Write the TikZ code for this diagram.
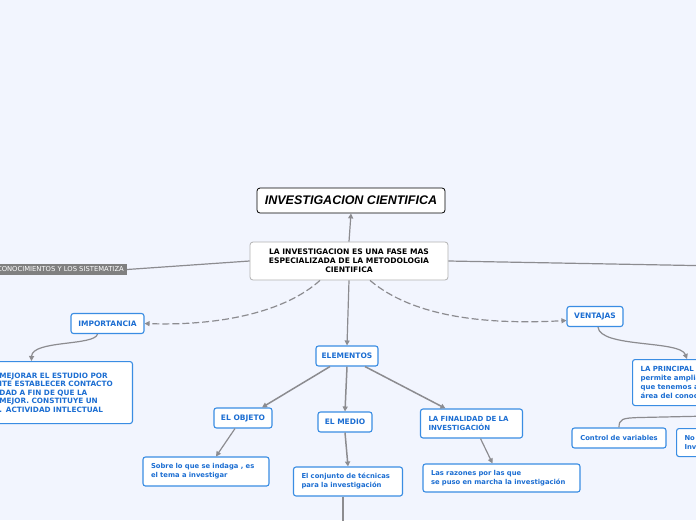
\documentclass[tikz,border=0pt]{standalone}
\usepackage{fontspec}
\newfontfamily\mapfont{DejaVu Sans}
\newfontfamily\headfont{Liberation Sans}
\usetikzlibrary{arrows.meta, positioning}
\definecolor{pagebg}{HTML}{F2F5FE}
\definecolor{subline}{HTML}{3A8DE3}
\definecolor{subtext}{HTML}{1C6ED2}
\definecolor{linkgray}{HTML}{8C8C90}
\definecolor{knowgray}{HTML}{808080}

\begin{document}
\hyphenpenalty=10000
\begin{tikzpicture}[
  x=1pt, y=-1pt,
  topic/.style={draw=black, rounded corners=3pt, fill=white, line width=0.8pt,
                font=\headfont\bfseries\itshape\fontsize{12.5}{14}\selectfont,
                minimum width=188pt, minimum height=25pt, inner sep=0pt},
  central/.style={draw=gray!60, rounded corners=3pt, fill=white, line width=0.8pt,
                  font=\mapfont\bfseries\fontsize{7.6}{9}\selectfont, align=center,
                  minimum width=198pt, minimum height=38pt, inner sep=0pt},
  know/.style={fill=knowgray, text=white, font=\mapfont\fontsize{6.8}{7}\selectfont,
               inner xsep=3pt, inner ysep=0pt, minimum height=11pt},
  sub/.style={draw=subline, rounded corners=2.5pt, fill=white, line width=1.1pt,
              text=subtext, font=\mapfont\bfseries\fontsize{7.5}{9}\selectfont,
              minimum height=20pt, inner sep=0pt},
  leaf/.style={sub, align=left, inner xsep=8pt, minimum height=29pt},
  small/.style={font=\mapfont\bfseries\fontsize{6.8}{9}\selectfont},
  plain/.style={draw=linkgray, line width=1.2pt},
  link/.style={plain, -{Triangle[length=5pt,width=5pt]}},
  dlink/.style={link, dash pattern=on 7pt off 3pt},
  thick link/.style={link, line width=1.5pt}
]
\useasboundingbox (0,0) rectangle (696,520);
\clip (0,0) rectangle (696,520);
\fill[pagebg] (0,0) rectangle (696,520);

% centre and title
\node[topic] (title) at (351,200.5) {INVESTIGACION CIENTIFICA};
\node[central] (central) at (349,261) {LA INVESTIGACION ES UNA FASE MAS\\ESPECIALIZADA DE LA METODOLOGIA\\CIENTIFICA};
\node[know, anchor=east] (know) at (127,269.5) {CONOCIMIENTOS Y LOS SISTEMATIZA};
\coordinate (offr) at (720,266);

% main branches
\node[sub, minimum width=73pt] (imp) at (107.5,323.5) {IMPORTANCIA};
\node[sub, minimum width=56pt] (vent) at (595,316.5) {VENTAJAS};
\node[sub, minimum width=62pt] (elem) at (347,356) {ELEMENTOS};

\node[leaf, anchor=north east, text width=125pt, minimum height=62pt,
      font=\mapfont\bfseries\fontsize{7.3}{8.5}\selectfont] (mejorar) at (133,361)
  {MEJORAR EL ESTUDIO POR\\ITE ESTABLECER CONTACTO\\DAD A FIN DE QUE LA\\MEJOR. CONSTITUYE UN\\. ACTIVIDAD INTLECTUAL};

% elementos
\node[sub, minimum width=58pt] (objeto) at (243,418) {EL OBJETO};
\node[sub, minimum width=54pt] (medio) at (345,422) {EL MEDIO};
\node[leaf, text width=86pt, font=\mapfont\bfseries\fontsize{7}{9}\selectfont] (final) at (471.5,423.5) {LA FINALIDAD DE LA\\INVESTIGACIÓN};
\node[leaf, small, text width=110pt] (sobre) at (206,471.5) {Sobre lo que se indaga , es\\el tema a investigar};
\node[leaf, small, text width=93pt] (conj) at (348,481.5) {El conjunto de técnicas\\para la investigación};
\node[leaf, small, text width=141pt, minimum height=28pt] (razon) at (501.5,478) {Las razones por las que\\se puso en marcha la investigación};
\coordinate (offb) at (343,530);

% ventajas
\node[leaf, anchor=north west, text width=80pt, minimum height=46pt,
      font=\mapfont\bfseries\fontsize{7}{9}\selectfont] (princ) at (632,359)
  {LA PRINCIPAL\\permite amplia\\que tenemos a\\área del conoc};
\node[sub, small, minimum width=94pt] (ctrl) at (619,438) {Control de variables};
\node[leaf, small, anchor=north west, text width=60pt, minimum height=28pt] (noinv) at (676,428) {No\\Inv};
\coordinate (offc) at (710,416);

\draw[link] (central.north) -- (title.south);
\draw[plain] (central.west) -- (know.east);
\draw[plain] (central.east) -- (offr);
\draw[link] (central.south) -- (elem.north);
\draw[dlink] ([xshift=-29pt]central.south) .. controls (285,312) and (220,326) .. (imp.east);
\draw[dlink] ([xshift=21pt]central.south) .. controls (405,310) and (465,326) .. ([yshift=-4pt]vent.west);
\draw[link] ([xshift=-10pt]imp.south) .. controls (95,346) and (32,340) .. ([xshift=-30.5pt]mejorar.north);
\draw[link] ([xshift=3pt]vent.south) .. controls (600,348) and (680,340) .. ([xshift=55pt]princ.north west);
\draw[plain] (ctrl.north) .. controls (619,419) and (622,418) .. (640,417.5) -- (offc);

\draw[thick link] ([xshift=-17pt]elem.south) -- ([xshift=19pt]objeto.north);
\draw[thick link] (elem.south) -- (medio.north);
\draw[thick link] ([xshift=18pt]elem.south) -- ([xshift=-26pt]final.north);
\draw[link] ([xshift=-8pt]objeto.south) -- ([xshift=10pt]sobre.north);
\draw[thick link] (medio.south) -- (conj.north);
\draw[plain] ([xshift=-5pt]conj.south) -- (offb);
\draw[link] ([xshift=9pt]final.south) -- ([xshift=-9pt]razon.north);
\end{tikzpicture}
\end{document}
